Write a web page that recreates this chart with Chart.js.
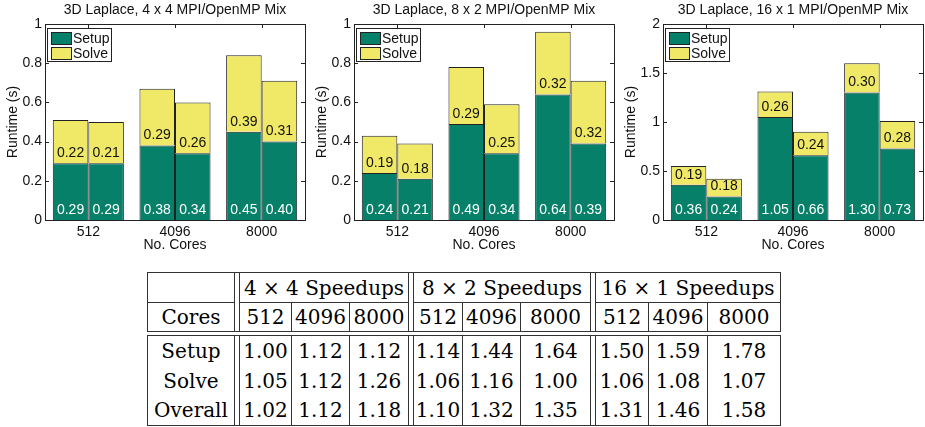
<!DOCTYPE html>
<html>
<head>
<meta charset="utf-8">
<script src="https://cdn.jsdelivr.net/npm/chart.js@4.4.0/dist/chart.umd.min.js"></script>
<style>
  body { margin: 0; background: #fff; width: 925px; height: 427px; position: relative; overflow: hidden; }
  canvas { position: absolute; top: 0; }
  table { position: absolute; border-collapse: collapse; table-layout: fixed;
          font-family: "DejaVu Serif", serif; font-size: 20px; color: #000; }
  td { border: 1px solid #333; text-align: center; padding: 0; white-space: nowrap; }
  td.sp { border-top: 1px solid #333; border-bottom: 1px solid #333; }
  #tbody td { border-top: none; border-bottom: none; }
  #tbody { border: 1px solid #333; }
</style>
</head>
<body>
<canvas id="c1" width="310" height="256" style="left:0px"></canvas>
<canvas id="c2" width="310" height="256" style="left:309px"></canvas>
<canvas id="c3" width="310" height="256" style="left:618px"></canvas>

<table id="thead" style="left:147px; top:272px; width:633px">
  <colgroup>
    <col style="width:87px"><col style="width:5px">
    <col style="width:52px"><col style="width:58px"><col style="width:59px"><col style="width:5px">
    <col style="width:49px"><col style="width:58px"><col style="width:70px"><col style="width:5px">
    <col style="width:53px"><col style="width:59px"><col style="width:73px">
  </colgroup>
  <tr style="height:30px"><td></td><td class="sp" rowspan="2"></td>
    <td colspan="3">4 × 4 Speedups</td><td class="sp" rowspan="2"></td>
    <td colspan="3">8 × 2 Speedups</td><td class="sp" rowspan="2"></td>
    <td colspan="3">16 × 1 Speedups</td></tr>
  <tr style="height:29px" id="coresRow"></tr>
</table>

<table id="tbody" style="left:147px; top:335px; width:633px">
  <colgroup>
    <col style="width:87px"><col style="width:5px">
    <col style="width:52px"><col style="width:58px"><col style="width:59px"><col style="width:5px">
    <col style="width:49px"><col style="width:58px"><col style="width:70px"><col style="width:5px">
    <col style="width:53px"><col style="width:59px"><col style="width:73px">
  </colgroup>
</table>

<script>
// data
const cores = ["512", "4096", "8000"];

// 4 x 4 mix
const setup44a = [0.29, 0.38, 0.45];
const solve44a = [0.22, 0.29, 0.39];
const setup44b = [0.29, 0.34, 0.40];
const solve44b = [0.21, 0.26, 0.31];

// 8 x 2 mix
const setup82a = [0.24, 0.49, 0.64];
const solve82a = [0.19, 0.29, 0.32];
const setup82b = [0.21, 0.34, 0.39];
const solve82b = [0.18, 0.25, 0.32];

// 16 x 1 mix
const setup161a = [0.36, 1.05, 1.30];
const solve161a = [0.19, 0.26, 0.30];
const setup161b = [0.24, 0.66, 0.73];
const solve161b = [0.18, 0.24, 0.28];

// speedup table
const rowNames = ["Setup", "Solve", "Overall"];
const speedup44 = [[1.00, 1.12, 1.12], [1.05, 1.12, 1.26], [1.02, 1.12, 1.18]];
const speedup82 = [[1.14, 1.44, 1.64], [1.06, 1.16, 1.00], [1.10, 1.32, 1.35]];
const speedup161 = [[1.50, 1.59, 1.78], [1.06, 1.08, 1.07], [1.31, 1.46, 1.58]];

const GREEN = "#07806a";
const YELLOW = "#f0e968";
const EDGE = "#222";
const FONT = "'Liberation Sans', Arial, sans-serif";
const FS = 14;

// box, inward ticks, title, legend, bar labels
const matlabPlugin = {
  id: "matlab",
  afterDatasetsDraw(chart) {
    const ctx = chart.ctx;
    ctx.save();
    ctx.font = FS + "px " + FONT;
    ctx.textAlign = "center";
    ctx.textBaseline = "middle";
    chart.data.datasets.forEach((ds, i) => {
      const meta = chart.getDatasetMeta(i);
      ctx.fillStyle = ds.labelColor;
      meta.data.forEach((bar, j) => {
        ctx.fillText(ds.data[j].toFixed(2), bar.x, bar.base - 10);
      });
    });
    ctx.restore();
  },
  afterDraw(chart) {
    const ctx = chart.ctx;
    const a = chart.chartArea;
    const y = chart.scales.y, x = chart.scales.x;
    ctx.save();
    ctx.strokeStyle = "#222";
    ctx.lineWidth = 1;
    ctx.beginPath();
    y.ticks.forEach(t => {
      const py = Math.round(y.getPixelForValue(t.value)) + 0.5;
      ctx.moveTo(a.left, py); ctx.lineTo(a.left + 4, py);
      ctx.moveTo(a.right, py); ctx.lineTo(a.right - 4, py);
    });
    x.ticks.forEach((t, i) => {
      const px = Math.round(x.getPixelForTick(i)) + 0.5;
      ctx.moveTo(px, a.top); ctx.lineTo(px, a.top + 4);
    });
    ctx.stroke();
    ctx.strokeRect(Math.round(a.left) + 0.5, Math.round(a.top) + 0.5,
                   Math.round(a.right - a.left), Math.round(a.bottom - a.top));

    // title
    ctx.fillStyle = "#111";
    ctx.font = FS + "px " + FONT;
    ctx.textAlign = "center";
    ctx.textBaseline = "middle";
    ctx.fillText(chart.options.plotTitle, (a.left + a.right) / 2, 10);

    // legend
    const lx = Math.round(a.left) + 2, ly = Math.round(a.top) + 4;
    ctx.fillStyle = "#fff";
    ctx.fillRect(lx, ly, 64, 33);
    ctx.strokeStyle = "#222";
    ctx.strokeRect(lx + 0.5, ly + 0.5, 64, 33);
    ctx.fillStyle = GREEN;
    ctx.fillRect(lx + 4, ly + 4, 20, 12);
    ctx.strokeRect(lx + 4.5, ly + 4.5, 20, 12);
    ctx.fillStyle = YELLOW;
    ctx.fillRect(lx + 4, ly + 19, 20, 12);
    ctx.strokeRect(lx + 4.5, ly + 19.5, 20, 12);
    ctx.fillStyle = "#111";
    ctx.textAlign = "left";
    ctx.fillText("Setup", lx + 26, ly + 11);
    ctx.fillText("Solve", lx + 26, ly + 26);
    ctx.restore();
  }
};

function makeChart(id, title, ymax, step, sA, vA, sB, vB) {
  const ds = (label, data, stack, color, labelColor) => ({
    label: label, data: data, stack: stack, backgroundColor: color,
    borderColor: EDGE, borderWidth: 1, labelColor: labelColor,
    categoryPercentage: 0.82, barPercentage: 1.0
  });
  new Chart(document.getElementById(id), {
    type: "bar",
    data: {
      labels: cores,
      datasets: [
        ds("Setup", sA, "a", GREEN, "#fff"),
        ds("Solve", vA, "a", YELLOW, "#111"),
        ds("Setup", sB, "b", GREEN, "#fff"),
        ds("Solve", vB, "b", YELLOW, "#111")
      ]
    },
    options: {
      responsive: false,
      animation: false,
      plotTitle: title,
      layout: { padding: { top: 24, right: 5, left: 0, bottom: 0 } },
      plugins: { legend: { display: false }, title: { display: false }, tooltip: { enabled: false } },
      scales: {
        x: {
          stacked: true,
          grid: { display: false, drawTicks: false },
          border: { display: false },
          ticks: { color: "#111", font: { family: FONT, size: FS }, padding: 4 },
          title: { display: true, text: "No. Cores", color: "#111", font: { family: FONT, size: FS }, padding: { top: 0, bottom: 2 } },
          afterFit: s => { s.height = 36; }
        },
        y: {
          stacked: true,
          min: 0, max: ymax,
          grid: { display: false, drawTicks: false },
          border: { display: false },
          ticks: {
            stepSize: step, color: "#111", font: { family: FONT, size: FS }, padding: 3,
            callback: v => String(Number(v.toFixed(1)))
          },
          title: { display: true, text: "Runtime (s)", color: "#111", font: { family: FONT, size: FS }, padding: { top: 5, bottom: 0 } },
          afterFit: s => { s.width = 45; }
        }
      }
    },
    plugins: [matlabPlugin]
  });
}

makeChart("c1", "3D Laplace, 4 x 4 MPI/OpenMP Mix", 1, 0.2, setup44a, solve44a, setup44b, solve44b);
makeChart("c2", "3D Laplace, 8 x 2 MPI/OpenMP Mix", 1, 0.2, setup82a, solve82a, setup82b, solve82b);
makeChart("c3", "3D Laplace, 16 x 1 MPI/OpenMP Mix", 2, 0.5, setup161a, solve161a, setup161b, solve161b);

// table
function cell(text, cls) {
  const td = document.createElement("td");
  td.textContent = text;
  if (cls) td.className = cls;
  return td;
}
const coresRow = document.getElementById("coresRow");
coresRow.appendChild(cell("Cores"));
[0, 1, 2].forEach(() => {
  cores.forEach(c => coresRow.appendChild(cell(c)));
});

const tbody = document.getElementById("tbody");
rowNames.forEach((name, r) => {
  const tr = document.createElement("tr");
  tr.style.height = "30px";
  tr.appendChild(cell(name));
  [speedup44, speedup82, speedup161].forEach(tbl => {
    tr.appendChild(cell("", "sp"));
    tbl[r].forEach(v => tr.appendChild(cell(v.toFixed(2))));
  });
  tbody.appendChild(tr);
});
</script>
</body>
</html>
